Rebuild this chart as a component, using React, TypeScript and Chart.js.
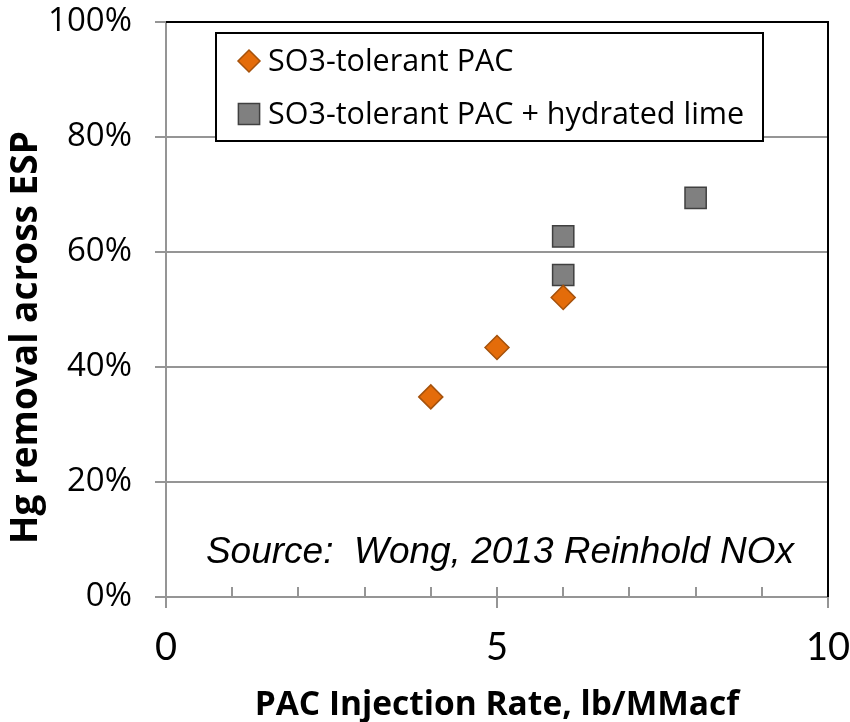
import React, { useEffect, useRef } from "react";
import { Chart, registerables } from "chart.js";

Chart.register(...registerables);

// ---- data ----
const pacRate = [4, 5, 6];
const pacRemoval = [0.348, 0.434, 0.521];
const limeRate = [6, 6, 8];
const limeRemoval = [0.627, 0.56, 0.694];
const seriesNames = ["SO3-tolerant PAC", "SO3-tolerant PAC + hydrated lime"];
const xMajorTicks = [0, 5, 10];
const xMinorTicks = [1, 2, 3, 4, 6, 7, 8, 9];
const yTickStep = 0.2;
const xTitle = "PAC Injection Rate, lb/MMacf";
const yTitle = "Hg removal across ESP";
const sourceNote = "Source:  Wong, 2013 Reinhold NOx";

// ---- style ----
const GRID = "#959595";
const ORANGE = "#E46C0A";
const ORANGE_EDGE = "#A5520C";
const GRAY = "#808080";
const GRAY_EDGE = "#404040";

function drawMarker(ctx: CanvasRenderingContext2D, style: string, x: number, y: number, r: number, fill: string, edge: string) {
  ctx.save();
  ctx.fillStyle = fill;
  ctx.strokeStyle = edge;
  ctx.lineWidth = 1.5;
  ctx.beginPath();
  if (style === "rectRot") {
    ctx.moveTo(x, y - r);
    ctx.lineTo(x + r, y);
    ctx.lineTo(x, y + r);
    ctx.lineTo(x - r, y);
    ctx.closePath();
  } else {
    const s = r * Math.SQRT1_2;
    ctx.rect(x - s, y - s, 2 * s, 2 * s);
  }
  ctx.fill();
  ctx.stroke();
  ctx.restore();
}

const decorPlugin = {
  id: "decor",
  beforeDatasetsDraw(chart: any) {
    const { ctx, chartArea: a, scales } = chart;
    const xs = scales.x;
    ctx.save();
    ctx.strokeStyle = GRID;
    ctx.lineWidth = 2;
    ctx.beginPath();
    for (const v of xMinorTicks) {
      const px = Math.round(xs.getPixelForValue(v));
      ctx.moveTo(px, a.bottom);
      ctx.lineTo(px, a.bottom - 10);
    }
    for (const v of xMajorTicks) {
      const px = Math.round(xs.getPixelForValue(v));
      ctx.moveTo(px, a.bottom - 10);
      ctx.lineTo(px, a.bottom + 11);
    }
    ctx.stroke();
    ctx.strokeStyle = "#000";
    ctx.lineWidth = 2;
    ctx.beginPath();
    ctx.moveTo(a.left, a.top);
    ctx.lineTo(a.right, a.top);
    ctx.lineTo(a.right, a.bottom);
    ctx.stroke();
    ctx.restore();
  },
  afterDatasetsDraw(chart: any) {
    const { ctx, chartArea: a } = chart;
    ctx.save();
    // source note
    ctx.font = "italic 37px 'Liberation Sans', Arial, sans-serif";
    ctx.fillStyle = "#000";
    ctx.textAlign = "center";
    ctx.textBaseline = "middle";
    ctx.fillText(sourceNote, (a.left + a.right) / 2 + 3, a.bottom - 44);

    // legend
    const bx = a.left + 50;
    const by = a.top + 11;
    const bw = 547;
    const bh = 108;
    ctx.fillStyle = "#fff";
    ctx.fillRect(bx, by, bw, bh);
    ctx.strokeStyle = "#000";
    ctx.lineWidth = 2;
    ctx.strokeRect(bx, by, bw, bh);
    const rows = [by + 28, by + 81];
    chart.data.datasets.forEach((ds: any, i: number) => {
      const cy = rows[i];
      drawMarker(ctx, ds.pointStyle, bx + 33, cy, ds.pointStyle === "rectRot" ? 11 : 15, ds.backgroundColor, ds.borderColor);
      ctx.font = "30.5px 'Open Sans', sans-serif";
      ctx.fillStyle = "#000";
      ctx.textAlign = "left";
      ctx.textBaseline = "middle";
      ctx.fillText(ds.label, bx + 52, cy + 1);
    });

    // axis titles
    ctx.fillStyle = "#000";
    ctx.font = "bold 33.5px 'Open Sans', sans-serif";
    ctx.textAlign = "center";
    ctx.textBaseline = "alphabetic";
    ctx.fillText(xTitle, (a.left + a.right) / 2, a.bottom + 118);

    ctx.save();
    ctx.translate(37, (a.top + a.bottom) / 2 + 28);
    ctx.rotate(-Math.PI / 2);
    ctx.font = "bold 37px 'Open Sans', sans-serif";
    ctx.textAlign = "center";
    ctx.textBaseline = "alphabetic";
    ctx.fillText(yTitle, 0, 0);
    ctx.restore();

    ctx.restore();
  },
};

export default function App() {
  const ref = useRef<HTMLCanvasElement | null>(null);

  useEffect(() => {
    if (!ref.current) return;
    const chart = new Chart(ref.current, {
      type: "scatter",
      data: {
        datasets: [
          {
            label: seriesNames[0],
            data: pacRate.map((x, i) => ({ x, y: pacRemoval[i] })),
            pointStyle: "rectRot",
            pointRadius: 12,
            pointHoverRadius: 12,
            backgroundColor: ORANGE,
            borderColor: ORANGE_EDGE,
            borderWidth: 1.5,
          },
          {
            label: seriesNames[1],
            data: limeRate.map((x, i) => ({ x, y: limeRemoval[i] })),
            pointStyle: "rect",
            pointRadius: 15,
            pointHoverRadius: 15,
            backgroundColor: GRAY,
            borderColor: GRAY_EDGE,
            borderWidth: 1.5,
          },
        ],
      },
      options: {
        responsive: false,
        animation: false,
        layout: { padding: { left: 0, right: 22, top: 22, bottom: 0 } },
        plugins: {
          legend: { display: false },
          tooltip: { enabled: false },
        },
        scales: {
          x: {
            type: "linear",
            min: 0,
            max: 10,
            afterFit: (s: any) => {
              s.height = 125;
              s.paddingLeft = 0;
              s.paddingRight = 0;
            },
            afterBuildTicks: (s: any) => {
              s.ticks = xMajorTicks.map((v) => ({ value: v }));
            },
            ticks: {
              font: { family: "Lato", size: 38 },
              color: "#000",
              padding: 28,
              maxRotation: 0,
            },
            grid: { display: false, drawTicks: false },
            border: { display: true, color: GRID, width: 2 },
            title: { display: false, text: xTitle },
          },
          y: {
            type: "linear",
            min: 0,
            max: 1,
            afterFit: (s: any) => {
              s.width = 166;
              s.paddingTop = 0;
              s.paddingBottom = 0;
            },
            ticks: {
              stepSize: yTickStep,
              font: { family: "'Open Sans'", size: 33 },
              color: "#000",
              padding: 23,
              callback: (v: any) => Math.round(Number(v) * 100) + "%",
            },
            grid: { color: GRID, lineWidth: 2, drawTicks: true, tickLength: 11 },
            border: { display: true, color: GRID, width: 2 },
            title: { display: false, text: yTitle },
          },
        },
      },
      plugins: [decorPlugin],
    } as any);
    return () => chart.destroy();
  }, []);

  return (
    <div style={{ position: "absolute", left: 0, top: 0, width: 850, height: 722, background: "#fff" }}>
      <canvas ref={ref} width={850} height={722} style={{ width: 850, height: 722, display: "block" }} />
    </div>
  );
}
